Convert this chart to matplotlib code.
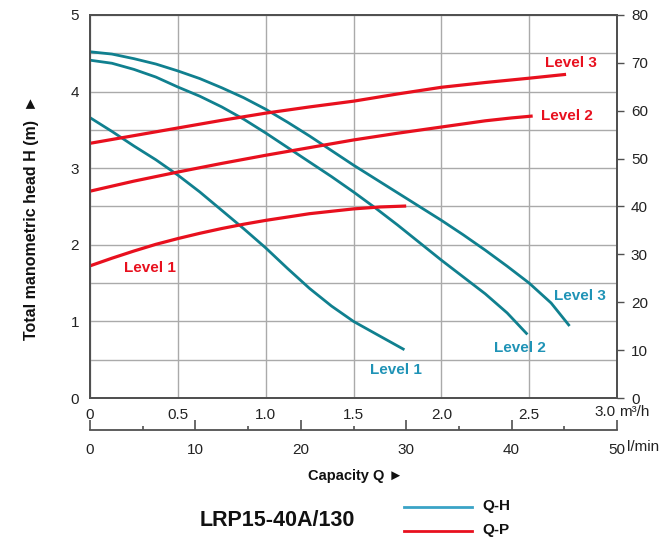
import matplotlib
matplotlib.use("Agg")
import matplotlib.pyplot as plt
from matplotlib.ticker import MultipleLocator, FixedLocator

plt.rcParams['font.family'] = ['Liberation Sans', 'DejaVu Sans']

# Q-H curves: capacity (m3/h) vs head (m)
qh1_q = [0.0, 0.125, 0.25, 0.375, 0.5, 0.625, 0.75, 0.875, 1.0, 1.125,
         1.25, 1.375, 1.5, 1.625, 1.79]
qh1_h = [3.66, 3.48, 3.29, 3.11, 2.91, 2.69, 2.45, 2.21, 1.96, 1.69,
         1.43, 1.20, 1.00, 0.84, 0.63]
qh2_q = [0.0, 0.125, 0.25, 0.375, 0.5, 0.625, 0.75, 0.875, 1.0, 1.125,
         1.25, 1.375, 1.5, 1.625, 1.75, 1.875, 2.0, 2.125, 2.25, 2.375, 2.49]
qh2_h = [4.41, 4.37, 4.29, 4.19, 4.06, 3.94, 3.80, 3.64, 3.46, 3.27,
         3.08, 2.89, 2.69, 2.48, 2.26, 2.03, 1.80, 1.58, 1.36, 1.11, 0.83]
qh3_q = [0.0, 0.125, 0.25, 0.375, 0.5, 0.625, 0.75, 0.875, 1.0, 1.125,
         1.25, 1.375, 1.5, 1.625, 1.75, 1.875, 2.0, 2.125, 2.25, 2.375,
         2.5, 2.625, 2.73]
qh3_h = [4.52, 4.49, 4.43, 4.36, 4.27, 4.17, 4.05, 3.92, 3.77, 3.60,
         3.42, 3.23, 3.04, 2.86, 2.68, 2.50, 2.32, 2.13, 1.93, 1.72,
         1.50, 1.24, 0.94]

# Q-P curves: capacity (m3/h) vs power (W)
qp1_q = [0.0, 0.125, 0.25, 0.375, 0.5, 0.625, 0.75, 0.875, 1.0, 1.25,
         1.5, 1.65, 1.80]
qp1_p = [27.6, 29.2, 30.7, 32.1, 33.3, 34.4, 35.4, 36.3, 37.1, 38.5,
         39.5, 39.9, 40.1]
qp2_q = [0.0, 0.25, 0.5, 0.75, 1.0, 1.25, 1.5, 1.75, 2.0, 2.25, 2.4, 2.52]
qp2_p = [43.2, 45.3, 47.2, 49.0, 50.7, 52.3, 53.9, 55.3, 56.6, 57.9,
         58.5, 58.9]
qp3_q = [0.0, 0.25, 0.5, 0.75, 1.0, 1.25, 1.5, 1.75, 2.0, 2.25, 2.5, 2.71]
qp3_p = [53.2, 54.8, 56.4, 58.0, 59.5, 60.8, 62.0, 63.5, 64.9, 65.9,
         66.8, 67.6]

m3h_ticks = [0, 0.5, 1.0, 1.5, 2.0, 2.5, 3.0]
m3h_labels = ["0", "0.5", "1.0", "1.5", "2.0", "2.5", ""]
lmin_ticks = [0, 10, 20, 30, 40, 50]
head_ticks = [0, 1, 2, 3, 4, 5]
power_ticks = [0, 10, 20, 30, 40, 50, 60, 70, 80]

TEAL = "#10808f"
TEAL_TXT = "#1f93b6"
TEAL_LEG = "#3aa3c6"
RED = "#e8101e"
SPINE = "#505050"
GRID = "#aaaaaa"
INK = "#222222"

fig = plt.figure(figsize=(6.62, 5.42), dpi=100)
ax = fig.add_axes([90 / 662, 1 - 398 / 542, 527 / 662, 383 / 542])

ax.set_xlim(0, 3.0)
ax.set_ylim(0, 5)
ax.xaxis.set_major_locator(FixedLocator(m3h_ticks))
ax.set_xticklabels(m3h_labels)
ax.yaxis.set_major_locator(FixedLocator(head_ticks))
ax.xaxis.set_minor_locator(MultipleLocator(0.5))
ax.yaxis.set_minor_locator(MultipleLocator(0.5))
ax.grid(True, which='both', color=GRID, linewidth=1.0)
ax.set_axisbelow(True)
ax.tick_params(axis='both', which='both', length=0, labelsize=11,
               colors=INK)
ax.tick_params(axis='x', pad=7)
ax.tick_params(axis='y', pad=8)
for s in ax.spines.values():
    s.set_color(SPINE)
    s.set_linewidth(1.3)

# power axis on the right
axp = ax.twinx()
axp.set_ylim(0, 80)
axp.yaxis.set_major_locator(FixedLocator(power_ticks))
axp.tick_params(axis='y', length=5, width=1.0, color=SPINE, labelsize=11,
                labelcolor=INK, pad=5)
for s in axp.spines.values():
    s.set_color(SPINE)
    s.set_linewidth(1.3)

lw = 2.0
for q, h in [(qh1_q, qh1_h), (qh2_q, qh2_h), (qh3_q, qh3_h)]:
    ax.plot(q, h, color=TEAL, linewidth=lw, solid_capstyle='butt')
for q, p in [(qp1_q, qp1_p), (qp2_q, qp2_p), (qp3_q, qp3_p)]:
    axp.plot(q, p, color=RED, linewidth=lw + 0.3, solid_capstyle='butt')

lab = dict(fontsize=11, fontweight='bold', ha='center', va='center')
# curve labels
axp.text(2.74, 69.9, "Level 3", color=RED, **lab)
axp.text(2.715, 58.9, "Level 2", color=RED, **lab)
axp.text(0.34, 27.1, "Level 1", color=RED, **lab)
ax.text(2.79, 1.33, "Level 3", color=TEAL_TXT, **lab)
ax.text(2.45, 0.65, "Level 2", color=TEAL_TXT, **lab)
ax.text(1.74, 0.37, "Level 1", color=TEAL_TXT, **lab)

# last capacity label with its unit
fig.text(616 / 662, 1 - 412 / 542, "3.0", fontsize=11, color=INK,
         ha='right', va='center')
fig.text(619 / 662, 1 - 412 / 542, "m\u00b3/h", fontsize=11, color=INK,
         ha='left', va='center')

# l/min scale below the plot
sec = ax.secondary_xaxis(-32 / 383, functions=(lambda x: x * 50 / 3.0,
                                               lambda x: x * 3.0 / 50))
sec.xaxis.set_major_locator(FixedLocator(lmin_ticks))
sec.xaxis.set_minor_locator(MultipleLocator(5))
sec.tick_params(axis='x', which='major', direction='in', length=7,
                width=1.2, color=SPINE, labelsize=11, labelcolor=INK,
                pad=9)
sec.tick_params(axis='x', which='minor', direction='in', length=3,
                width=1.2, color=SPINE)
sec.spines['bottom'].set_color(SPINE)
sec.spines['bottom'].set_linewidth(1.3)
fig.text(627 / 662, 1 - 447 / 542, "l/min", fontsize=11, color=INK,
         ha='left', va='center')

fig.text(355 / 662, 1 - 476 / 542, "Capacity Q \u25BA", fontsize=10.5,
         fontweight='bold', ha='center', va='center', color='#111111')
fig.text(32 / 662, 1 - 218 / 542, "Total manometric head H (m)  \u25BA",
         fontsize=11.5, fontweight='bold', rotation=90, ha='center',
         va='center', color='#111111')

fig.text(277 / 662, 1 - 521 / 542, "LRP15-40A/130", fontsize=15.5,
         fontweight='bold', ha='center', va='center', color='#111111')

# legend
fig.lines.append(plt.Line2D([404 / 662, 472 / 662],
                            [1 - 507 / 542, 1 - 507 / 542],
                            color=TEAL_LEG, linewidth=2.0,
                            transform=fig.transFigure))
fig.lines.append(plt.Line2D([404 / 662, 472 / 662],
                            [1 - 531 / 542, 1 - 531 / 542],
                            color=RED, linewidth=2.0,
                            transform=fig.transFigure))
fig.text(482 / 662, 1 - 506 / 542, "Q-H", fontsize=11, fontweight='bold',
         ha='left', va='center', color='#111111')
fig.text(482 / 662, 1 - 530 / 542, "Q-P", fontsize=11, fontweight='bold',
         ha='left', va='center', color='#111111')

fig.savefig("out.png", dpi=100, facecolor='white')
